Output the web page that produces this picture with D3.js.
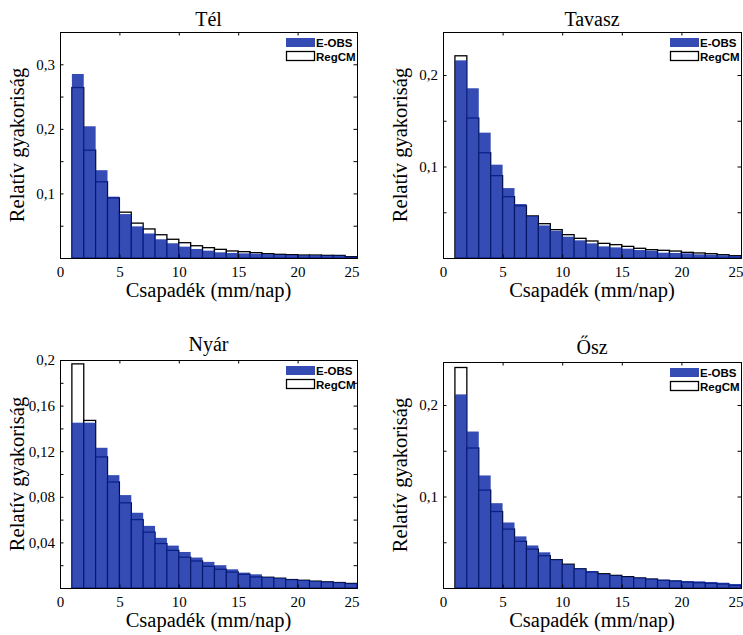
<!DOCTYPE html>
<html>
<head>
<meta charset="utf-8">
<script src="https://cdn.jsdelivr.net/npm/d3@7"></script>
<style>
  body { margin: 0; background: #fff; }
  svg { display: block; }
</style>
</head>
<body>
<div id="chart"></div>
<script>
// Bin lower edges (mm/nap), each bin is 1 mm wide
const binStarts = [1, 2, 3, 4, 5, 6, 7, 8, 9, 10, 11, 12, 13, 14, 15, 16, 17, 18, 19, 20, 21, 22, 23, 24];

// Relative frequencies
const telEobs   = [0.285, 0.204, 0.136, 0.095, 0.068, 0.049, 0.038, 0.029, 0.0228, 0.0176, 0.014, 0.0114, 0.0088, 0.0078, 0.0072, 0.0067, 0.006, 0.0052, 0.0049, 0.0044, 0.0042, 0.004, 0.0039, 0.002];
const telRegcm  = [0.264, 0.167, 0.118, 0.093, 0.071, 0.054, 0.045, 0.036, 0.029, 0.0237, 0.019, 0.016, 0.0134, 0.0109, 0.0098, 0.0083, 0.0067, 0.0057, 0.0052, 0.0046, 0.0046, 0.0041, 0.004, 0.002];

const tavEobs   = [0.216, 0.1855, 0.137, 0.102, 0.0764, 0.059, 0.046, 0.0356, 0.0298, 0.0233, 0.0193, 0.016, 0.0127, 0.0116, 0.0102, 0.0087, 0.008, 0.0058, 0.0055, 0.0051, 0.004, 0.0036, 0.003, 0.0022];
const tavRegcm  = [0.221, 0.153, 0.115, 0.090, 0.067, 0.057, 0.046, 0.0375, 0.031, 0.0255, 0.0215, 0.0186, 0.016, 0.0146, 0.0127, 0.0106, 0.0091, 0.0084, 0.0076, 0.0062, 0.0055, 0.0047, 0.0036, 0.0025];

const nyarEobs  = [0.145, 0.145, 0.123, 0.099, 0.0815, 0.066, 0.0545, 0.044, 0.0372, 0.0316, 0.0267, 0.0229, 0.020, 0.0164, 0.0135, 0.012, 0.0097, 0.0088, 0.0076, 0.007, 0.0062, 0.0056, 0.005, 0.0041];
const nyarRegcm = [0.1966, 0.147, 0.115, 0.093, 0.0747, 0.060, 0.049, 0.039, 0.033, 0.027, 0.0237, 0.019, 0.0164, 0.014, 0.012, 0.0097, 0.0094, 0.0086, 0.0074, 0.0068, 0.006, 0.0054, 0.0048, 0.004];

const oszEobs   = [0.2116, 0.171, 0.123, 0.0927, 0.0716, 0.0564, 0.0465, 0.039, 0.0313, 0.0258, 0.0215, 0.0186, 0.0153, 0.0138, 0.0124, 0.0113, 0.0102, 0.0091, 0.0084, 0.0076, 0.0073, 0.0066, 0.0058, 0.0044];
const oszRegcm  = [0.241, 0.153, 0.107, 0.0836, 0.0644, 0.051, 0.0425, 0.0353, 0.031, 0.026, 0.021, 0.0175, 0.0156, 0.0138, 0.0124, 0.011, 0.0098, 0.0084, 0.0076, 0.0065, 0.0058, 0.0051, 0.0044, 0.0029];

// Axis ticks
const xTicks = [0, 5, 10, 15, 20, 25];
const yTicksTel = [0.05, 0.1, 0.15, 0.2, 0.25, 0.3];
const yLabelsTel = [0.1, 0.2, 0.3];
const yTicksTav = [0.05, 0.1, 0.15, 0.2];
const yLabelsTav = [0.1, 0.2];
const yTicksNyar = [0.02, 0.04, 0.06, 0.08, 0.1, 0.12, 0.14, 0.16, 0.18, 0.2];
const yLabelsNyar = [0.04, 0.08, 0.12, 0.16, 0.2];

const seriesNames = ['E-OBS', 'RegCM'];

const panels = [
    { title: 'Tél',    eobs: telEobs,  regcm: telRegcm,  yMax: 0.35,  yTicks: yTicksTel,  yLabels: yLabelsTel,  titleDy: -6,   box: { left: 60,  top: 32,  width: 297, height: 226 } },
    { title: 'Tavasz', eobs: tavEobs,  regcm: tavRegcm,  yMax: 0.247, yTicks: yTicksTav,  yLabels: yLabelsTav,  titleDy: -6,   box: { left: 443, top: 32,  width: 298, height: 226 } },
    { title: 'Nyár',   eobs: nyarEobs, regcm: nyarRegcm, yMax: 0.2,   yTicks: yTicksNyar, yLabels: yLabelsNyar, titleDy: -9,   box: { left: 60,  top: 360, width: 297, height: 228 } },
    { title: 'Ősz',    eobs: oszEobs,  regcm: oszRegcm,  yMax: 0.247, yTicks: yTicksTav,  yLabels: yLabelsTav,  titleDy: -8,   box: { left: 443, top: 362, width: 298, height: 226 } }
];

const serif = '"Liberation Serif", "Times New Roman", serif';
const sans = '"Liberation Sans", Arial, sans-serif';
const blue = '#0b28a5';
const fmt = v => String(+v.toFixed(2)).replace('.', ',');

const svg = d3.select('#chart')
    .append('svg')
    .attr('width', 743)
    .attr('height', 635)
    .style('background', '#fff');

panels.forEach(p => {
    const b = p.box;
    const g = svg.append('g').attr('transform', `translate(${b.left},${b.top})`);

    const x = d3.scaleLinear().domain([0, 25]).range([0, b.width]);
    const y = d3.scaleLinear().domain([0, p.yMax]).range([b.height, 0]);

    // RegCM underneath: white with black outline
    g.selectAll('.regcm')
        .data(binStarts.map((s, i) => ({ s, v: p.regcm[i] })))
        .enter().append('rect')
        .attr('class', 'regcm')
        .attr('x', d => x(d.s))
        .attr('width', d => x(d.s + 1) - x(d.s))
        .attr('y', d => y(d.v))
        .attr('height', d => b.height - y(d.v))
        .attr('fill', '#fff')
        .attr('stroke', '#000')
        .attr('stroke-width', 1.3);

    // E-OBS on top, slightly see-through
    g.selectAll('.eobs')
        .data(binStarts.map((s, i) => ({ s, v: p.eobs[i] })))
        .enter().append('rect')
        .attr('class', 'eobs')
        .attr('x', d => x(d.s))
        .attr('width', d => x(d.s + 1) - x(d.s))
        .attr('y', d => y(d.v))
        .attr('height', d => b.height - y(d.v))
        .attr('fill', blue)
        .attr('fill-opacity', 0.83);

    // Axes box with inward ticks on all sides
    const tickLen = 3.5;
    g.append('g')
        .attr('transform', `translate(0,${b.height})`)
        .call(d3.axisBottom(x).tickValues(xTicks).tickSize(-tickLen).tickPadding(8).tickFormat(d => d));
    g.append('g')
        .call(d3.axisTop(x).tickValues(xTicks).tickSize(-tickLen).tickFormat(''));
    g.append('g')
        .call(d3.axisLeft(y).tickValues(p.yTicks).tickSize(-tickLen).tickPadding(5)
            .tickFormat(d => p.yLabels.some(l => Math.abs(l - d) < 1e-9) ? fmt(d) : ''));
    g.append('g')
        .attr('transform', `translate(${b.width},0)`)
        .call(d3.axisRight(y).tickValues(p.yTicks).tickSize(-tickLen).tickFormat(''));

    g.selectAll('.domain').attr('stroke', '#000').attr('stroke-width', 1);
    g.selectAll('.tick line').attr('stroke', '#000').attr('stroke-width', 1);
    g.selectAll('.tick text')
        .attr('fill', '#000')
        .style('font-family', serif)
        .style('font-size', '15px');

    // last x label sits flush against the right edge
    g.selectAll('.tick text')
        .filter(d => d === 25)
        .attr('text-anchor', 'end')
        .attr('dx', 2);

    // Title
    g.append('text')
        .attr('x', b.width / 2)
        .attr('y', p.titleDy)
        .attr('text-anchor', 'middle')
        .style('font-family', serif)
        .style('font-size', '20px')
        .text(p.title);

    // Axis labels
    g.append('text')
        .attr('x', b.width / 2)
        .attr('y', b.height + 39)
        .attr('text-anchor', 'middle')
        .style('font-family', serif)
        .style('font-size', '20.5px')
        .text('Csapadék (mm/nap)');

    g.append('text')
        .attr('transform', `translate(-36,${b.height / 2}) rotate(-90)`)
        .attr('text-anchor', 'middle')
        .style('font-family', serif)
        .style('font-size', '20.5px')
        .text('Relatív gyakoriság');

    // Legend
    const lg = g.append('g').attr('transform', `translate(${b.width - 71},6)`);
    lg.append('rect')
        .attr('x', 0).attr('y', 0)
        .attr('width', 29).attr('height', 9)
        .attr('fill', blue).attr('fill-opacity', 0.83);
    lg.append('rect')
        .attr('x', 0.5).attr('y', 13.5)
        .attr('width', 28).attr('height', 9)
        .attr('fill', '#fff').attr('stroke', '#000').attr('stroke-width', 1.3);
    seriesNames.forEach((name, i) => {
        lg.append('text')
            .attr('x', 30)
            .attr('y', 9 + i * 13.5)
            .style('font-family', sans)
            .style('font-weight', 'bold')
            .style('font-size', '11.5px')
            .text(name);
    });
});
</script>
</body>
</html>
